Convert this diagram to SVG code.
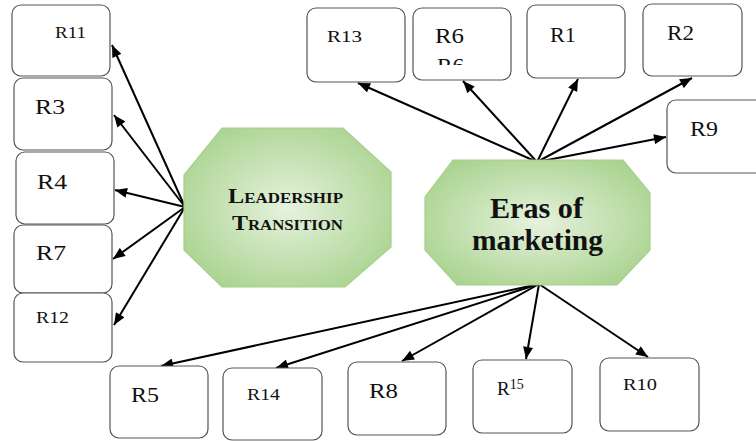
<svg xmlns="http://www.w3.org/2000/svg" width="756" height="441" viewBox="0 0 756 441">
<style>
.box{fill:#fff;stroke:#555;stroke-width:1.2}
.lbl{font-family:"Liberation Serif",serif;fill:#111}
.big{font-size:22px}
.sm{font-size:16px}
.oct{stroke:#a6cf8c;stroke-width:1.2}
.con{stroke:#000;stroke-width:2;fill:none}
</style>
<defs>
<radialGradient id="g" cx="0.5" cy="0.5" r="0.6">
<stop offset="0" stop-color="#e6f2dd"/>
<stop offset="1" stop-color="#a9d38f"/>
</radialGradient>
<marker id="ah" viewBox="0 0 12 10" refX="12" refY="5" markerWidth="13" markerHeight="10" orient="auto" markerUnits="userSpaceOnUse">
<path d="M0,0 L12,5 L0,10 z" fill="#000"/>
</marker>
<clipPath id="r6clip"><rect x="413" y="8" width="98" height="57"/></clipPath>
</defs>

<g id="connectors">
<line class="con" x1="185" y1="207" x2="112" y2="45" marker-end="url(#ah)"/>
<line class="con" x1="185" y1="207" x2="114" y2="115" marker-end="url(#ah)"/>
<line class="con" x1="185" y1="207" x2="115" y2="190" marker-end="url(#ah)"/>
<line class="con" x1="185" y1="207" x2="113" y2="259" marker-end="url(#ah)"/>
<line class="con" x1="185" y1="207" x2="114" y2="325" marker-end="url(#ah)"/>
<line class="con" x1="537" y1="162" x2="358" y2="83" marker-end="url(#ah)"/>
<line class="con" x1="537" y1="162" x2="463" y2="81" marker-end="url(#ah)"/>
<line class="con" x1="537" y1="162" x2="578" y2="79" marker-end="url(#ah)"/>
<line class="con" x1="537" y1="162" x2="692" y2="78" marker-end="url(#ah)"/>
<line class="con" x1="537" y1="162" x2="666" y2="137" marker-end="url(#ah)"/>
<line class="con" x1="539" y1="284" x2="161" y2="366" marker-end="url(#ah)"/>
<line class="con" x1="539" y1="284" x2="276" y2="368" marker-end="url(#ah)"/>
<line class="con" x1="539" y1="284" x2="402" y2="361" marker-end="url(#ah)"/>
<line class="con" x1="539" y1="284" x2="526" y2="359" marker-end="url(#ah)"/>
<line class="con" x1="539" y1="284" x2="648" y2="357" marker-end="url(#ah)"/>
</g>

<g id="leadership">
<polygon class="oct" fill="url(#g)" points="222,128 343,128 391,172 391,247 345,287 222,287 184,250 184,175"/>
<text class="lbl" font-weight="bold" x="228" y="203" textLength="115" lengthAdjust="spacingAndGlyphs"><tspan font-size="20">L</tspan><tspan font-size="14">EADERSHIP</tspan></text>
<text class="lbl" font-weight="bold" x="232" y="230" textLength="111" lengthAdjust="spacingAndGlyphs"><tspan font-size="20">T</tspan><tspan font-size="14">RANSITION</tspan></text>
</g>

<g id="eras">
<polygon class="oct" fill="url(#g)" points="453,160 623,160 650,193 650,250 617,285 457,285 425,250 425,197"/>
<text class="lbl" font-weight="bold" font-size="29" x="490" y="218" textLength="93" lengthAdjust="spacingAndGlyphs">Eras of</text>
<text class="lbl" font-weight="bold" font-size="29" x="472" y="250" textLength="131" lengthAdjust="spacingAndGlyphs">marketing</text>
</g>

<g id="R11"><rect class="box" x="12" y="5" width="98" height="71" rx="9"/><text class="lbl sm" x="55" y="38" textLength="31" lengthAdjust="spacingAndGlyphs">R11</text></g>
<g id="R3"><rect class="box" x="14" y="78" width="98" height="72" rx="9"/><text class="lbl big" x="35" y="114" textLength="30" lengthAdjust="spacingAndGlyphs">R3</text></g>
<g id="R4"><rect class="box" x="16" y="152" width="98" height="72" rx="9"/><text class="lbl big" x="37" y="189" textLength="30" lengthAdjust="spacingAndGlyphs">R4</text></g>
<g id="R7"><rect class="box" x="14" y="225" width="98" height="68" rx="9"/><text class="lbl big" x="36" y="260" textLength="30" lengthAdjust="spacingAndGlyphs">R7</text></g>
<g id="R12"><rect class="box" x="14" y="293" width="98" height="69" rx="9"/><text class="lbl sm" x="36" y="323" textLength="33" lengthAdjust="spacingAndGlyphs">R12</text></g>

<g id="R13"><rect class="box" x="307" y="8" width="98" height="74" rx="9"/><text class="lbl sm" x="327" y="42" textLength="35" lengthAdjust="spacingAndGlyphs">R13</text></g>
<g id="R6"><rect class="box" x="413" y="8" width="98" height="72" rx="9"/><text class="lbl big" x="435" y="43" textLength="29" lengthAdjust="spacingAndGlyphs">R6</text><text class="lbl big" x="437" y="73" clip-path="url(#r6clip)" textLength="27" lengthAdjust="spacingAndGlyphs">R6</text></g>
<g id="R1"><rect class="box" x="527" y="5" width="98" height="73" rx="9"/><text class="lbl big" x="550" y="42" textLength="26" lengthAdjust="spacingAndGlyphs">R1</text></g>
<g id="R2"><rect class="box" x="643" y="4" width="99" height="72" rx="9"/><text class="lbl big" x="667" y="40" textLength="27" lengthAdjust="spacingAndGlyphs">R2</text></g>
<g id="R9"><rect class="box" x="667" y="100" width="100" height="73" rx="9"/><text class="lbl big" x="690" y="136" textLength="28" lengthAdjust="spacingAndGlyphs">R9</text></g>

<g id="R5"><rect class="box" x="110" y="366" width="98" height="72" rx="9"/><text class="lbl big" x="131" y="402" textLength="28" lengthAdjust="spacingAndGlyphs">R5</text></g>
<g id="R14"><rect class="box" x="223" y="368" width="99" height="72" rx="9"/><text class="lbl sm" x="247" y="400" textLength="33" lengthAdjust="spacingAndGlyphs">R14</text></g>
<g id="R8"><rect class="box" x="348" y="362" width="98" height="73" rx="9"/><text class="lbl big" x="369" y="398" textLength="29" lengthAdjust="spacingAndGlyphs">R8</text></g>
<g id="R15"><rect class="box" x="473" y="360" width="99" height="73" rx="9"/><text class="lbl" x="497" y="395"><tspan font-size="19">R</tspan><tspan font-size="14" dy="-6">15</tspan></text></g>
<g id="R10"><rect class="box" x="600" y="358" width="99" height="73" rx="9"/><text class="lbl sm" x="623" y="390" textLength="34" lengthAdjust="spacingAndGlyphs">R10</text></g>
</svg>
